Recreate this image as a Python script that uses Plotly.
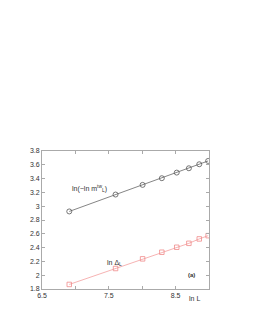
import plotly.graph_objects as go

L_values = [1000, 2000, 3000, 4000, 5000, 6000, 7000, 8000]
lnL = [6.908, 7.601, 8.006, 8.294, 8.517, 8.699, 8.854, 8.987]
ln_ln_m = [2.924, 3.169, 3.309, 3.406, 3.487, 3.550, 3.608, 3.656]
ln_delta = [1.866, 2.097, 2.237, 2.333, 2.405, 2.462, 2.526, 2.573]

y_tickvals = [1.8, 2.0, 2.2, 2.4, 2.6, 2.8, 3.0, 3.2, 3.4, 3.6, 3.8]
y_ticktext = ["1.8", "2", "2.2", "2.4", "2.6", "2.8", "3", "3.2", "3.4", "3.6", "3.8"]

FONT = "Liberation Sans, Arial, sans-serif"

fig = go.Figure()
fig.add_trace(go.Scatter(
    x=lnL, y=ln_ln_m, mode="lines+markers",
    line=dict(color="#666666", width=0.8),
    marker=dict(symbol="circle-open", size=5, color="#555555", line=dict(width=0.8)),
    showlegend=False))
fig.add_trace(go.Scatter(
    x=lnL, y=ln_delta, mode="lines+markers",
    line=dict(color="#f4a0a0", width=0.8),
    marker=dict(symbol="square-open", size=4.5, color="#f08a8a", line=dict(width=0.8)),
    showlegend=False))

axis_common = dict(
    showline=True, linecolor="#aaaaaa", linewidth=0.8, mirror="ticks",
    ticks="inside", ticklen=3, tickcolor="#aaaaaa", tickwidth=0.8,
    showgrid=False, zeroline=False,
    tickfont=dict(family=FONT, size=7, color="#333333"))

fig.update_xaxes(range=[6.5, 9.0], tickmode="linear", tick0=6.5, dtick=1,
                 minor=dict(dtick=0.5, tick0=6.5, ticks="inside", ticklen=3,
                            tickcolor="#aaaaaa", tickwidth=0.8, showgrid=False),
                 **axis_common)
fig.update_yaxes(range=[1.8, 3.8], tickvals=y_tickvals, ticktext=y_ticktext, **axis_common)

fig.add_annotation(x=6.92, y=3.26, xref="x", yref="y", xanchor="left", yanchor="middle",
                   text="ln(\u2212ln m<sup>tw</sup><sub>L</sub>)", showarrow=False,
                   font=dict(family=FONT, size=7, color="#333333"))
fig.add_annotation(x=7.45, y=2.18, xref="x", yref="y", xanchor="left", yanchor="middle",
                   text="ln \u0394<sub>L</sub>", showarrow=False,
                   font=dict(family=FONT, size=7, color="#333333"))
fig.add_annotation(x=8.74, y=2.01, xref="x", yref="y", xanchor="center", yanchor="middle",
                   text="<b>(a)</b>", showarrow=False,
                   font=dict(family=FONT, size=6, color="#333333"))
fig.add_annotation(x=8.78, y=0, xref="x", yref="paper", xanchor="center", yanchor="top",
                   yshift=-4, text="ln L", showarrow=False,
                   font=dict(family=FONT, size=7, color="#333333"))

fig.update_layout(
    width=253, height=327,
    margin=dict(l=34, r=51.5, t=143, b=45.5),
    paper_bgcolor="white", plot_bgcolor="white")

fig.write_html("out.html")
